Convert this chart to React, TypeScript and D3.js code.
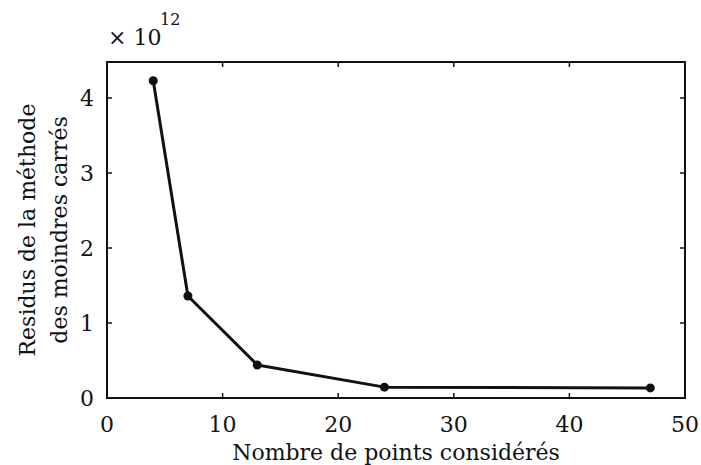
import React from "react";
import * as d3 from "d3";

const nPoints = [4, 7, 13, 24, 47];
const residus = [4.23, 1.36, 0.44, 0.145, 0.135];
const xTicks = [0, 10, 20, 30, 40, 50];
const yTicks = [0, 1, 2, 3, 4];

const W = 701;
const H = 465;
const FONT = "'DejaVu Serif', serif";

export default function App() {
  const x = d3.scaleLinear().domain([0, 50]).range([107, 685]);
  const y = d3.scaleLinear().domain([0, 4.48]).range([398, 62]);
  const line = d3
    .line<number>()
    .x((_, i) => x(nPoints[i]))
    .y((d) => y(d));
  const [x0, x1] = x.range();
  const [y0, y1] = y.range();
  const tl = 5;
  return (
    <svg
      width={W}
      height={H}
      style={{ position: "absolute", left: 0, top: 0, background: "#fff" }}
      fontFamily={FONT}
    >
      <rect x={0} y={0} width={W} height={H} fill="#fff" />
      {/* ticks */}
      {xTicks.map((t) => (
        <g key={"x" + t}>
          <line x1={x(t)} x2={x(t)} y1={y0} y2={y0 - tl} stroke="#111" strokeWidth={1.5} />
          <line x1={x(t)} x2={x(t)} y1={y1} y2={y1 + tl} stroke="#111" strokeWidth={1.5} />
          <text x={x(t)} y={432} textAnchor="middle" fontSize={22} fill="#111">
            {t}
          </text>
        </g>
      ))}
      {yTicks.map((t) => (
        <g key={"y" + t}>
          <line x1={x0} x2={x0 + tl} y1={y(t)} y2={y(t)} stroke="#111" strokeWidth={1.5} />
          <line x1={x1} x2={x1 - tl} y1={y(t)} y2={y(t)} stroke="#111" strokeWidth={1.5} />
          <text x={94} y={y(t)} dy="0.38em" textAnchor="end" fontSize={22} fill="#111">
            {t}
          </text>
        </g>
      ))}
      <rect
        x={x0}
        y={y1}
        width={x1 - x0}
        height={y0 - y1}
        fill="none"
        stroke="#111"
        strokeWidth={2}
      />
      <path d={line(residus) || ""} fill="none" stroke="#111" strokeWidth={3} strokeLinejoin="round" />
      {residus.map((v, i) => (
        <circle key={i} cx={x(nPoints[i])} cy={y(v)} r={4.5} fill="#111" />
      ))}
      {/* exponent */}
      <text x={108} y={45} fontSize={22} fill="#111">
        × 10
      </text>
      <text x={160} y={25} fontSize={16} fill="#111">
        12
      </text>
      {/* axis labels */}
      <text x={(x0 + x1) / 2} y={460} textAnchor="middle" fontSize={22} fill="#111">
        Nombre de points considérés
      </text>
      <text
        transform={`translate(35, ${(y0 + y1) / 2}) rotate(-90)`}
        textAnchor="middle"
        fontSize={22}
        fill="#111"
      >
        Residus de la méthode
      </text>
      <text
        transform={`translate(67, ${(y0 + y1) / 2}) rotate(-90)`}
        textAnchor="middle"
        fontSize={22}
        fill="#111"
      >
        des moindres carrés
      </text>
    </svg>
  );
}
